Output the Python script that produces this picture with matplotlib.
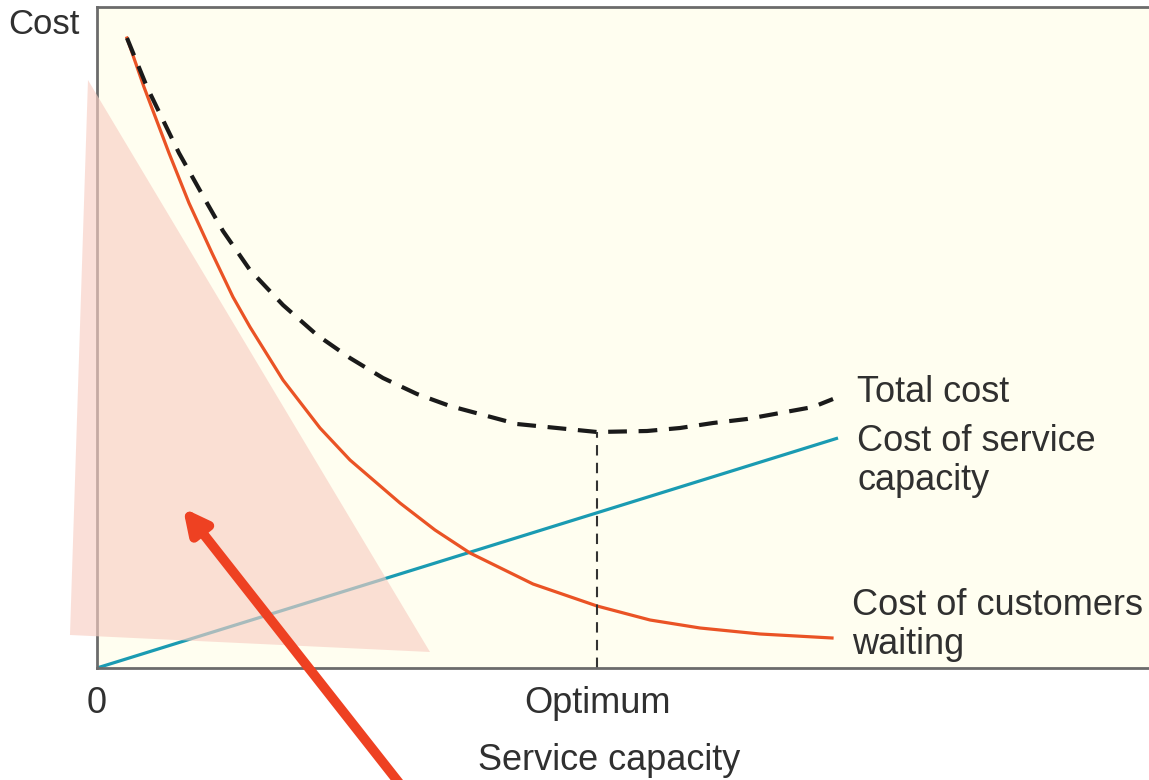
import matplotlib.pyplot as plt
import matplotlib.patheffects as pe
from matplotlib.patches import Polygon

plt.rcParams['font.family'] = ['Liberation Sans', 'DejaVu Sans']

# Cost of customers waiting
wait_x = [0.30, 0.47, 0.72, 0.92, 1.15, 1.36, 1.53, 1.86, 2.23, 2.53, 3.03, 3.38, 3.73,
          4.36, 5.00, 5.53, 6.03, 6.63, 7.35]
wait_y = [6.30, 5.81, 5.15, 4.65, 4.15, 3.71, 3.41, 2.88, 2.40, 2.08, 1.65, 1.38, 1.15,
          0.84, 0.62, 0.48, 0.40, 0.34, 0.30]

# Total cost
total_x = [0.30, 0.50, 0.82, 1.10, 1.26, 1.53, 1.86, 2.20, 2.53, 2.86, 3.20, 3.53, 4.20, 5.00,
           5.50, 5.83, 6.16, 6.50, 6.83, 7.16, 7.36]
total_y = [6.30, 5.81, 5.15, 4.65, 4.37, 3.98, 3.63, 3.33, 3.10, 2.90, 2.74, 2.62, 2.44, 2.36,
           2.37, 2.40, 2.45, 2.49, 2.55, 2.61, 2.69]

# Cost of service capacity (straight line)
service_x = [0.0, 7.41]
service_y = [0.0, 2.30]

optimum_x = 5.00
optimum_y = 2.36

# highlight triangle (annotation overlay)
tri_pts = [(-0.09, 5.88), (-0.27, 0.33), (3.33, 0.16)]

fig = plt.figure(figsize=(11.49, 7.80), dpi=100)
ax = fig.add_axes([0.0844, 0.1436, 0.9252, 0.8474])
ax.set_facecolor('#FFFEF0')
ax.set_xlim(0, 10.63)
ax.set_ylim(0, 6.61)

ax.plot(service_x, service_y, color='#1A9BB2', lw=2.3, solid_capstyle='butt')
ax.plot(wait_x, wait_y, color='#EA5325', lw=2.3)
ax.plot(total_x, total_y, color='#1a1a1a', lw=3.0, dashes=(4.5, 2.8), dash_capstyle='butt')
ax.plot([optimum_x, optimum_x], [0, optimum_y], color='#333333', lw=1.5, dashes=(5, 3.5))

for side in ['left', 'bottom', 'top']:
    ax.spines[side].set_color('#6b6b6b')
    ax.spines[side].set_linewidth(2.0)
ax.spines['right'].set_visible(False)
ax.set_xticks([])
ax.set_yticks([])

txt = dict(fontsize=26, color='#303030', clip_on=False)
ax.text(-0.89, 6.44, 'Cost', ha='left', va='center', fontsize=25, color='#303030', clip_on=False)
ax.text(0.0, -0.36, '0', ha='center', va='center', **txt)
ax.text(optimum_x, -0.36, 'Optimum', ha='center', va='center', **txt)
ax.text(5.12, -0.93, 'Service capacity', ha='center', va='center', **txt)
ax.text(7.60, 2.76, 'Total cost', ha='left', va='center', **txt)
ax.text(7.60, 2.07, 'Cost of service\ncapacity', ha='left', va='center', linespacing=1.15, **txt)
ax.text(7.55, 0.43, 'Cost of customers\nwaiting', ha='left', va='center', linespacing=1.15, **txt)

tri = Polygon(tri_pts, closed=True, facecolor='#F8CEC3', edgecolor='none', alpha=0.64,
              clip_on=False, zorder=4)
ax.add_patch(tri)

ax.annotate('', xy=(0.86, 1.60), xytext=(3.10, -1.25), xycoords='data', textcoords='data',
            arrowprops=dict(arrowstyle='-|>,head_length=1.4,head_width=0.7', color='#EE4122', lw=7,
                            shrinkA=0, shrinkB=0,
                            path_effects=[pe.SimplePatchShadow(offset=(2, -2), alpha=0.35), pe.Normal()]),
            annotation_clip=False, zorder=5)

fig.savefig('out.png', dpi=100)
